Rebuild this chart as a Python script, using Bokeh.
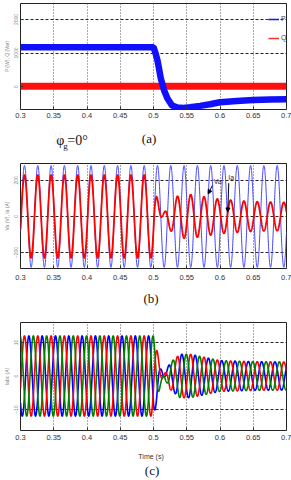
import numpy as np
from bokeh.plotting import figure
from bokeh.layouts import column
from bokeh.models import (Label, Arrow, NormalHead, Legend, LegendItem,
                          FixedTicker, Range1d)
from bokeh.embed import file_html
from bokeh.resources import INLINE

# ---------------- data ----------------
x_ticks = [0.3, 0.35, 0.4, 0.45, 0.5, 0.55, 0.6, 0.65, 0.7]
x_tick_labels = ["0.3", "0.35", "0.4", "0.45", "0.5", "0.55", "0.6", "0.65", "0.7"]

# (a) active / reactive power
p_time = [0.3, 0.5, 0.503, 0.506, 0.511, 0.516, 0.521, 0.528, 0.536, 0.545,
          0.555, 0.57, 0.585, 0.6, 0.625, 0.65, 0.675, 0.7]
p_watts = [1175, 1175, 1000, 780, 240, -120, -360, -570, -630, -640,
           -620, -580, -530, -470, -430, -400, -390, -380]
q_time = [0.3, 0.7]
q_var = [10, 10]
a_yticks = [0, 1000, 2000]

# (b) grid voltage Va and current Ia (50 Hz)
grid_freq = 50
peak_time = 0.306
va_amp = 283
ia_env_time = [0.3, 0.5, 0.503, 0.508, 0.513, 0.52, 0.53, 0.54, 0.555, 0.6, 0.65, 0.7]
ia_env_amp = [230, 230, 150, 60, 0, -50, -100, -120, -122, -95, -82, -78]
b_yticks = [-200, 0, 200]

# (c) three phase currents
iabc_env_time = [0.3, 0.5, 0.505, 0.51, 0.515, 0.525, 0.54, 0.555, 0.6, 0.65, 0.7]
iabc_env_amp = [12, 12, 8, 3, 0, -4, -6.5, -6.5, -4.6, -4.3, -4.2]
phase_shift_deg = [0, 120, 240]
c_yticks = [-10, 0, 10]

# ---------------- derived waveforms ----------------
t = np.arange(0.3, 0.70001, 0.0002)
w = 2 * np.pi * grid_freq
va = va_amp * np.cos(w * (t - peak_time))
ia = np.interp(t, ia_env_time, ia_env_amp) * np.cos(w * (t - peak_time))
env_c = np.interp(t, iabc_env_time, iabc_env_amp)
iabc = [env_c * np.cos(w * (t - peak_time) - np.deg2rad(d)) for d in phase_shift_deg]

SERIF = "Liberation Serif"
SANS = "Liberation Sans"
W = 291


def make_fig(height, ylo, yhi, yticks, border_top, border_bottom, ylabel, xstandoff=3):
    p = figure(width=W, height=height, x_range=Range1d(0.3, 0.7),
               y_range=Range1d(ylo, yhi), output_backend="svg",
               toolbar_location=None, min_border_left=19, min_border_right=5,
               min_border_top=border_top, min_border_bottom=border_bottom)
    p.background_fill_color = "white"
    p.border_fill_color = "white"
    p.outline_line_color = "#222222"
    p.outline_line_width = 1
    p.xaxis.ticker = FixedTicker(ticks=x_ticks)
    p.xaxis.major_label_overrides = {k: v for k, v in zip(x_ticks, x_tick_labels)}
    p.yaxis.ticker = FixedTicker(ticks=yticks)
    for ax in (p.xaxis, p.yaxis):
        ax.axis_line_color = None
        ax.major_tick_in = 3
        ax.major_tick_out = 0
        ax.minor_tick_line_color = None
        ax.major_tick_line_color = "#333333"
    p.xaxis.major_label_text_font = SANS
    p.xaxis.major_label_text_font_size = "7.5px"
    p.xaxis.major_label_text_color = "#333333"
    p.xaxis.major_label_standoff = xstandoff
    p.yaxis.major_label_text_font = SANS
    p.yaxis.major_label_text_font_size = "5px"
    p.yaxis.major_label_text_color = "#888888"
    p.yaxis.major_label_orientation = "vertical"
    p.yaxis.major_label_standoff = 2
    p.yaxis.axis_label = ylabel
    p.yaxis.axis_label_text_font = SANS
    p.yaxis.axis_label_text_font_size = "5px"
    p.yaxis.axis_label_text_font_style = "normal"
    p.yaxis.axis_label_text_color = "#888888"
    p.yaxis.axis_label_standoff = 2
    p.xgrid.grid_line_color = "#555555"
    p.xgrid.grid_line_dash = "1 2"
    p.xgrid.grid_line_width = 1
    p.ygrid.grid_line_color = "#222222"
    p.ygrid.grid_line_dash = "3 2"
    p.ygrid.grid_line_width = 1
    return p


def make_caption(height):
    c = figure(width=W, height=height, x_range=Range1d(0.3, 0.7),
               y_range=Range1d(0, height), output_backend="svg",
               toolbar_location=None, x_axis_location=None, y_axis_location=None,
               min_border_left=19, min_border_right=5, min_border_top=0,
               min_border_bottom=0)
    c.outline_line_color = None
    c.background_fill_color = "white"
    c.border_fill_color = "white"
    for g in c.grid:
        g.visible = False
    return c


def cap_label(fig, x, y, text, size="13px", font=SERIF, align="left", color="#111111"):
    fig.add_layout(Label(x=x, y=y, text=text, text_font=font, text_font_size=size,
                         text_align=align, text_baseline="middle", text_color=color))


# ---------------- panel (a) ----------------
pa = make_fig(126, -687, 2478, a_yticks, 3, 17, "P (W), Q (Var)")
rq = pa.line(q_time, q_var, color="#ff1010", line_width=7)
rp = pa.line(p_time, p_watts, color="#1010ff", line_width=6.5)
# thin legend swatches (renderers kept outside the visible x range)
lp = pa.line([-1.0, -0.9], [0, 0], color="#1010ff", line_width=1.5)
lq = pa.line([-1.0, -0.9], [0, 0], color="#ff3030", line_width=1.5)
leg = Legend(items=[LegendItem(label="P", renderers=[lp]),
                    LegendItem(label="Q", renderers=[lq])],
             location=(248, 68), background_fill_alpha=0,
             border_line_color=None, label_text_font_size="7px",
             label_text_font=SANS, glyph_width=11, glyph_height=6,
             label_height=6, spacing=12, padding=1, margin=0, label_standoff=2)
pa.add_layout(leg)

capa = make_caption(29)
cap_label(capa, 0.3539, 15, "φ", size="14px")
cap_label(capa, 0.3644, 10, "g", size="9px")
cap_label(capa, 0.3704, 15, "=0°", size="14px")
cap_label(capa, 0.4933, 17, "(a)", align="center")

# ---------------- panel (b) ----------------
pb = make_fig(133, -289, 294, b_yticks, 8, 20, "Va (V), Ia (A)", xstandoff=6)
pb.line(t, va, color="#4646ff", line_width=1)
pb.line(t, ia, color="#ff0000", line_width=1.8)
pb.add_layout(Label(x=0.5905, y=194, text="Va", text_font=SANS,
                    text_font_size="7px", text_baseline="middle", text_color="#1a2a55"))
pb.add_layout(Label(x=0.6125, y=217, text="Ia", text_font=SANS,
                    text_font_size="7px", text_baseline="middle", text_color="#1a2a55"))
pb.add_layout(Arrow(end=NormalHead(size=4, fill_color="black", line_color="black"),
                    x_start=0.5885, y_start=172, x_end=0.5822, y_end=125,
                    line_color="black", line_width=1))
pb.add_layout(Arrow(end=NormalHead(size=4, fill_color="black", line_color="black"),
                    x_start=0.6132, y_start=185, x_end=0.6117, y_end=25,
                    line_color="black", line_width=1))

capb = make_caption(22)
cap_label(capb, 0.4963, 12, "(b)", align="center")

# ---------------- panel (c) ----------------
pc = make_fig(136, -16.3, 16.0, c_yticks, 12, 16, "Iabc (A)", xstandoff=4)
for curve, col in zip([iabc[1], iabc[0], iabc[2]], ["#0000ff", "#ff0000", "#008000"]):
    pc.line(t, curve, color=col, line_width=1.6)

capc = make_caption(33)
cap_label(capc, 0.4963, 23, "Time (s)", size="7px", font=SANS, align="center",
          color="#333333")
cap_label(capc, 0.4978, 9, "(c)", align="center")

layout = column(pa, capa, pb, capb, pc, capc, spacing=0)
open("out.html", "w").write(file_html(layout, INLINE))
